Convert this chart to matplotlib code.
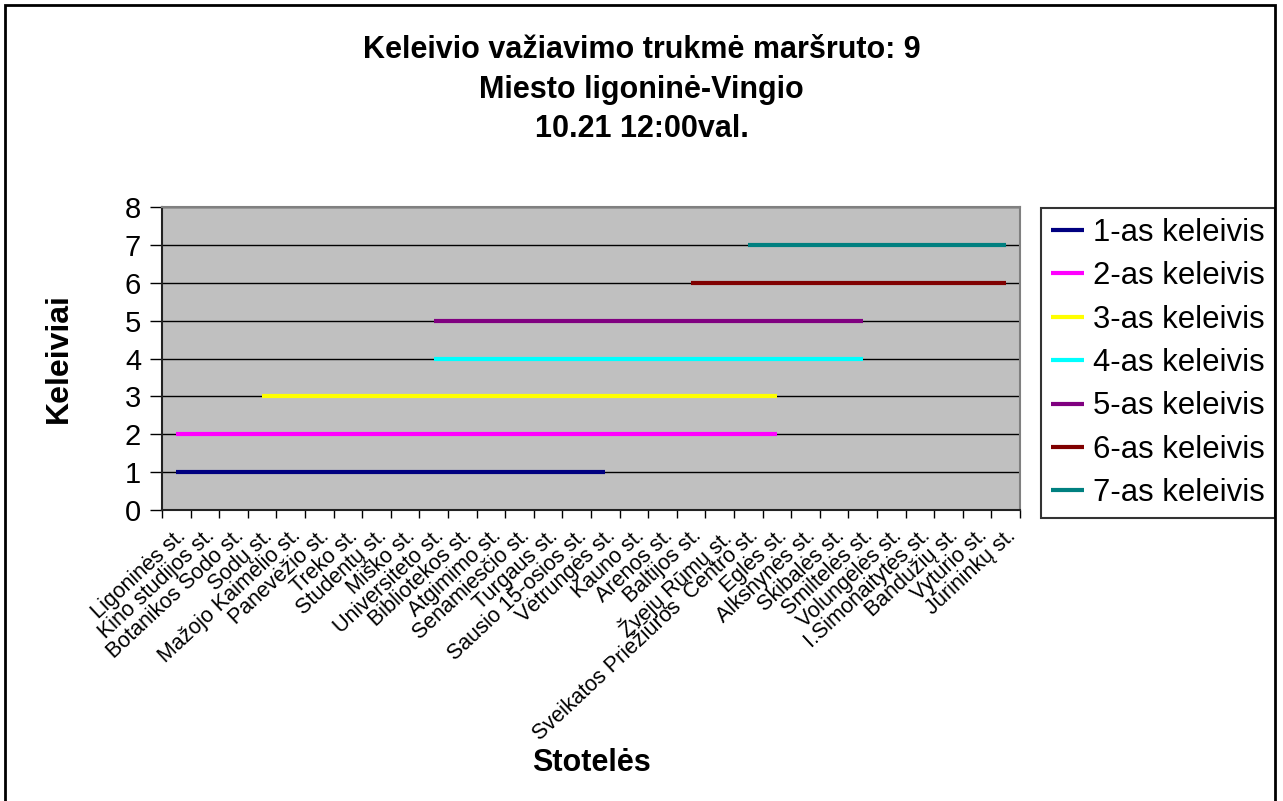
import numpy as np
import matplotlib
matplotlib.use('Agg')
from matplotlib import pyplot as plt
from matplotlib.patches import Rectangle
from matplotlib.ticker import FixedLocator

plt.rcParams['font.family'] = ['Liberation Sans', 'DejaVu Sans']

# stotelės (x ašis)
stops = ['Ligoninės st.', 'Kino studijos st.', 'Botanikos Sodo st.', 'Sodų st.',
         'Mažojo Kaimelio st.', 'Panevėžio st.', 'Treko st.', 'Studentų st.',
         'Miško st.', 'Universiteto st.', 'Bibliotekos st.', 'Atgimimo st.',
         'Senamiesčio st.', 'Turgaus st.', 'Sausio 15-osios st.', 'Vėtrungės st.',
         'Kauno st.', 'Arenos st.', 'Baltijos st.', 'Žvejų Rūmų st.',
         'Sveikatos Priežiūros  Centro st.', 'Eglės st.', 'Alksnynės st.',
         'Skibalės st.', 'Smiltelės st.', 'Volungėlės st.', 'I.Simonaitytės st.',
         'Bandužių st.', 'Vyturio st.', 'Jūrininkų st.']

# keleiviai: kur įlipo ir kur išlipo
passengers = ['1-as keleivis', '2-as keleivis', '3-as keleivis', '4-as keleivis',
              '5-as keleivis', '6-as keleivis', '7-as keleivis']
passenger_no = [1, 2, 3, 4, 5, 6, 7]
board = ['Ligoninės st.', 'Ligoninės st.', 'Sodų st.', 'Universiteto st.',
         'Universiteto st.', 'Baltijos st.', 'Sveikatos Priežiūros  Centro st.']
leave = ['Vėtrungės st.', 'Eglės st.', 'Eglės st.', 'Smiltelės st.',
         'Smiltelės st.', 'Jūrininkų st.', 'Jūrininkų st.']
colors = ['#000080', '#FF00FF', '#FFFF00', '#00FFFF', '#800080', '#800000', '#008080']

W, H = 1283, 801
fig = plt.figure(figsize=(W / 100, H / 100), dpi=100)
fig.patch.set_facecolor('white')

ax = fig.add_axes([162 / W, 1 - 510 / H, (1020 - 162) / W, (510 - 207) / H])
ax.set_facecolor('#C0C0C0')

x = np.arange(len(stops))
for no, name, b, l, c in zip(passenger_no, passengers, board, leave, colors):
    y = np.full(len(stops), np.nan)
    y[stops.index(b):stops.index(l) + 1] = no
    ax.plot(x, y, color=c, lw=3, label=name, solid_capstyle='butt', zorder=3)

ax.set_xlim(-0.5, len(stops) - 0.5)
ax.set_ylim(0, 8)
ax.set_yticks(range(0, 9))
ax.yaxis.grid(True, color='black', lw=1)
ax.set_axisbelow(True)
ax.tick_params(axis='y', labelsize=21, direction='out', length=9, width=1, pad=6)

ax.set_xticks(x)
ax.set_xticklabels(stops, rotation=43, ha='right', va='top',
                   rotation_mode='anchor', fontsize=15.5)
ax.tick_params(axis='x', which='major', length=0, pad=11)
ax.xaxis.set_minor_locator(FixedLocator(np.arange(-0.5, len(stops), 1)))
ax.tick_params(axis='x', which='minor', length=6, width=1, direction='out')

for s in ['left', 'bottom']:
    ax.spines[s].set_color('#222222')
    ax.spines[s].set_linewidth(1.5)
for s in ['top', 'right']:
    ax.spines[s].set_color('#808080')
    ax.spines[s].set_linewidth(1.5)

ax.set_ylabel('Keleiviai', fontsize=23, fontweight='bold', labelpad=37)
ax.set_xlabel('Stotelės', fontsize=22, fontweight='bold', labelpad=2)

fig.text(0.5, 1 - 35 / H,
         'Keleivio važiavimo trukmė maršruto: 9\nMiesto ligoninė-Vingio\n10.21 12:00val.',
         ha='center', va='top', fontsize=22, fontweight='bold', linespacing=1.42)

leg = ax.legend(loc='upper left', bbox_to_anchor=(1041 / W, 1 - 208 / H),
                bbox_transform=fig.transFigure, fontsize=22.4, frameon=True,
                fancybox=False, edgecolor='black', handlelength=1.07,
                handletextpad=0.28, labelspacing=0.43, borderaxespad=0,
                borderpad=0.32)
leg.get_frame().set_linewidth(1.5)

fig.patches.append(Rectangle((5 / W, -0.01), (1275 - 5) / W, 1.01 - 5 / H,
                             transform=fig.transFigure, fill=False,
                             edgecolor='black', lw=2))

plt.savefig('out.png', dpi=100)
